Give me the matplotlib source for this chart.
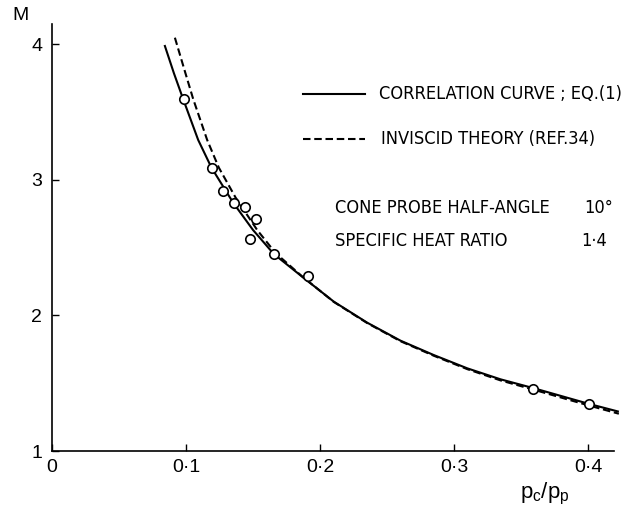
import matplotlib
matplotlib.use("Agg")
import matplotlib.pyplot as plt
from matplotlib.lines import Line2D
from matplotlib import font_manager

# ---------------- data ----------------
# correlation curve, Eq.(1)
corr_x = [0.0840, 0.0910, 0.0979, 0.1091, 0.1190, 0.1352, 0.1500, 0.1655,
          0.1867, 0.2103, 0.2352, 0.2601, 0.2849, 0.3099, 0.3347, 0.3596,
          0.4009, 0.4230]
corr_m = [3.996, 3.787, 3.596, 3.295, 3.091, 2.832, 2.631, 2.454,
          2.286, 2.102, 1.947, 1.814, 1.708, 1.610, 1.529, 1.463,
          1.347, 1.290]

# inviscid theory (Ref. 34)
inv_x = [0.0917, 0.0996, 0.1054, 0.1158, 0.1245, 0.1370, 0.1531, 0.1668,
         0.1867, 0.2103, 0.2352, 0.2601, 0.2849, 0.3099, 0.3347, 0.3596,
         0.4009, 0.4230]
inv_m = [4.050, 3.787, 3.596, 3.295, 3.091, 2.870, 2.631, 2.461,
         2.288, 2.100, 1.944, 1.810, 1.703, 1.604, 1.521, 1.452,
         1.335, 1.275]

# measured points
pts_x = [0.0983, 0.1194, 0.1274, 0.1358, 0.1443, 0.1522, 0.1478, 0.1659,
         0.1908, 0.3590, 0.4010]
pts_m = [3.598, 3.091, 2.921, 2.832, 2.803, 2.712, 2.565, 2.452,
         2.294, 1.458, 1.347]

x_ticks = [0.0, 0.1, 0.2, 0.3, 0.4]
x_tick_labels = ["0", "0·1", "0·2", "0·3", "0·4"]
y_ticks = [1, 2, 3, 4]
y_tick_labels = ["1", "2", "3", "4"]

legend_labels = ["CORRELATION CURVE ; EQ.(1)", "INVISCID THEORY (REF.34)"]
notes = [("CONE PROBE HALF-ANGLE", "10°"), ("SPECIFIC HEAT RATIO", "1·4")]

# ---------------- style ----------------
plt.rcParams["font.family"] = ["Liberation Sans", "DejaVu Sans"]
plt.rcParams["mathtext.fontset"] = "custom"
plt.rcParams["mathtext.rm"] = "Liberation Sans"
plt.rcParams["mathtext.it"] = "Liberation Sans"

# a condensed face for the annotation text if one is installed
cond = None
for f in font_manager.fontManager.ttflist:
    if f.stretch in ("condensed", "semi-condensed", 600, 700) or "Condensed" in f.name or "Narrow" in f.name:
        if f.style == "normal" and f.weight in (400, "normal", "regular"):
            cond = f.fname
            break
note_font = font_manager.FontProperties(fname=cond) if cond else font_manager.FontProperties(family="Liberation Sans")

W, H = 630, 508
fig = plt.figure(figsize=(W / 100, H / 100), dpi=100)

def fx(px):
    return px / W

def fy(py):
    return 1 - py / H

ax = fig.add_axes([fx(52), fy(451), (613.5 - 52) / W, (451 - 24) / H])
ax.set_xlim(0, 0.419)
ax.set_ylim(1, 4.151)

ax.plot(corr_x, corr_m, color="black", lw=1.5, clip_on=False, solid_capstyle="butt",
        solid_joinstyle="round")
ax.plot(inv_x, inv_m, color="black", lw=1.5, linestyle=(0, (3.6, 1.8)), clip_on=False)
ax.plot(pts_x, pts_m, linestyle="none", marker="o", markersize=6.8,
        markerfacecolor="white", markeredgecolor="black", markeredgewidth=1.2,
        zorder=5, clip_on=False)

for s in ["top", "right"]:
    ax.spines[s].set_visible(False)
for s in ["left", "bottom"]:
    ax.spines[s].set_linewidth(1.2)

ax.set_xticks(x_ticks)
ax.set_xticklabels(x_tick_labels)
ax.set_yticks(y_ticks)
ax.set_yticklabels(y_tick_labels)
ax.tick_params(axis="both", direction="in", length=5, width=1.0, labelsize=14)
ax.tick_params(axis="x", pad=6)
ax.tick_params(axis="y", pad=7)

fig.text(fx(20), fy(15), "M", fontsize=14, ha="center", va="center")
fig.text(fx(545), fy(494), r"$\mathrm{p_c / p_p}$", fontsize=16, ha="center", va="center")

# legend / notes: font size chosen so the first legend line spans its width in the reference
renderer = fig.canvas.get_renderer()
probe = fig.text(0, 0, legend_labels[0], fontproperties=note_font, fontsize=12)
w = probe.get_window_extent(renderer).width
probe.remove()
fs = min(13.5, 12 * (623 - 379) / w)

def note(px, py, s, ha="left"):
    fig.text(fx(px), fy(py), s, fontproperties=note_font, fontsize=fs, ha=ha, va="center")

fig.add_artist(Line2D([fx(303), fx(365)], [fy(94), fy(94)], color="black", lw=1.5))
fig.add_artist(Line2D([fx(303), fx(365)], [fy(138.5), fy(138.5)], color="black", lw=1.5,
                      linestyle=(0, (3.6, 1.8))))
note(379, 94, legend_labels[0])
note(381, 138.5, legend_labels[1])
note(335, 208.5, notes[0][0])
note(613, 208.5, notes[0][1], ha="right")
note(335, 241, notes[1][0])
note(607, 241, notes[1][1], ha="right")

fig.savefig("out.png", dpi=100)
